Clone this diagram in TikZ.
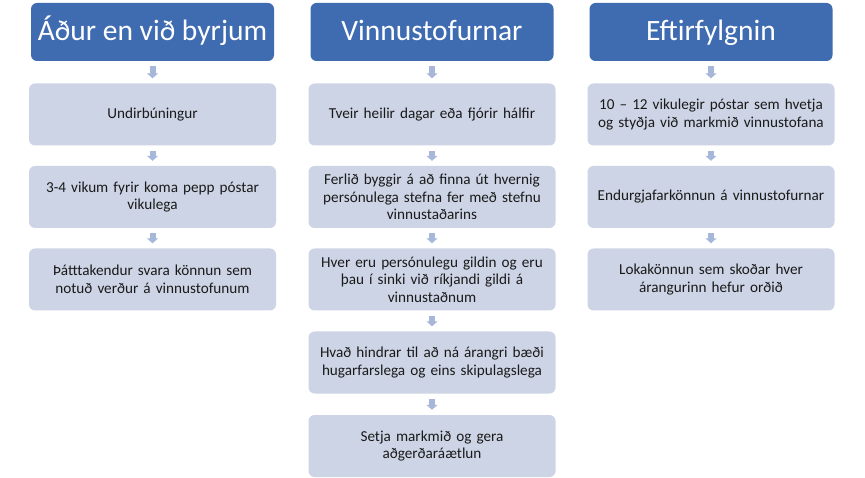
\documentclass[tikz,border=0pt]{standalone}
\usepackage{fontspec}
\setmainfont{Carlito}
\usetikzlibrary{arrows.meta,calc}
\definecolor{hdr}{HTML}{3F6BB1}
\definecolor{subc}{HTML}{CDD4E5}
\definecolor{arr}{HTML}{A6B7DA}
\definecolor{txt}{HTML}{1A1A1A}
\tikzset{
  hdrbox/.style={fill=hdr, rounded corners=6pt, minimum width=243pt, minimum height=58pt,
    text=white, font=\fontsize{29.5}{34}\selectfont, inner sep=0pt, text height=23pt, text depth=5pt},
  subbox/.style={fill=subc, rounded corners=6pt, minimum width=247pt, minimum height=62pt,
    text width=245pt, align=center, font=\fontsize{15.2}{17.6}\selectfont, inner sep=0pt, text=txt},
  blockarr/.style={draw=arr, line width=6pt, -{Triangle[width=11pt,length=5pt]}, shorten <=5pt, shorten >=5pt}
}
\begin{document}
\begin{tikzpicture}[x=1pt,y=-1pt]
\useasboundingbox[fill=white] (0,0) rectangle (865,478);
% column 1
\node[hdrbox] (h1) at (152.5,32) {Áður en við byrjum};
\node[subbox] (a1) at (152.5,114.5) {Undirbúningur};
\node[subbox] (a2) at (152.5,197) {3-4 vikum fyrir koma pepp póstar\\vikulega};
\node[subbox] (a3) at (152.5,279.5) {Þátttakendur svara könnun sem\\notuð verður á vinnustofunum};
% column 2
\node[hdrbox] (h2) at (432,32) {Vinnustofurnar};
\node[subbox] (b1) at (432,114.5) {Tveir heilir dagar eða fjórir hálfir};
\node[subbox] (b2) at (432,197) {Ferlið byggir á að finna út hvernig\\persónulega stefna fer með stefnu\\vinnustaðarins};
\node[subbox] (b3) at (432,279.5) {Hver eru persónulegu gildin og eru\\þau í sinki við ríkjandi gildi á\\vinnustaðnum};
\node[subbox] (b4) at (432,362.5) {Hvað hindrar til að ná árangri bæði\\hugarfarslega og eins skipulagslega};
\node[subbox] (b5) at (432,446) {Setja markmið og gera\\aðgerðaráætlun};
% column 3
\node[hdrbox] (h3) at (711,32) {Eftirfylgnin};
\node[subbox] (c1) at (711,114.5) {10 – 12 vikulegir póstar sem hvetja\\og styðja við markmið vinnustofana};
\node[subbox] (c2) at (711,197) {Endurgjafarkönnun á vinnustofurnar};
\node[subbox] (c3) at (711,279.5) {Lokakönnun sem skoðar hver\\árangurinn hefur orðið};
% arrows
\draw[blockarr] (h1.south) -- (a1.north);
\draw[blockarr] (a1.south) -- (a2.north);
\draw[blockarr] (a2.south) -- (a3.north);
\draw[blockarr] (h2.south) -- (b1.north);
\draw[blockarr] (b1.south) -- (b2.north);
\draw[blockarr] (b2.south) -- (b3.north);
\draw[blockarr] (b3.south) -- (b4.north);
\draw[blockarr] (b4.south) -- (b5.north);
\draw[blockarr] (h3.south) -- (c1.north);
\draw[blockarr] (c1.south) -- (c2.north);
\draw[blockarr] (c2.south) -- (c3.north);
\end{tikzpicture}
\end{document}
